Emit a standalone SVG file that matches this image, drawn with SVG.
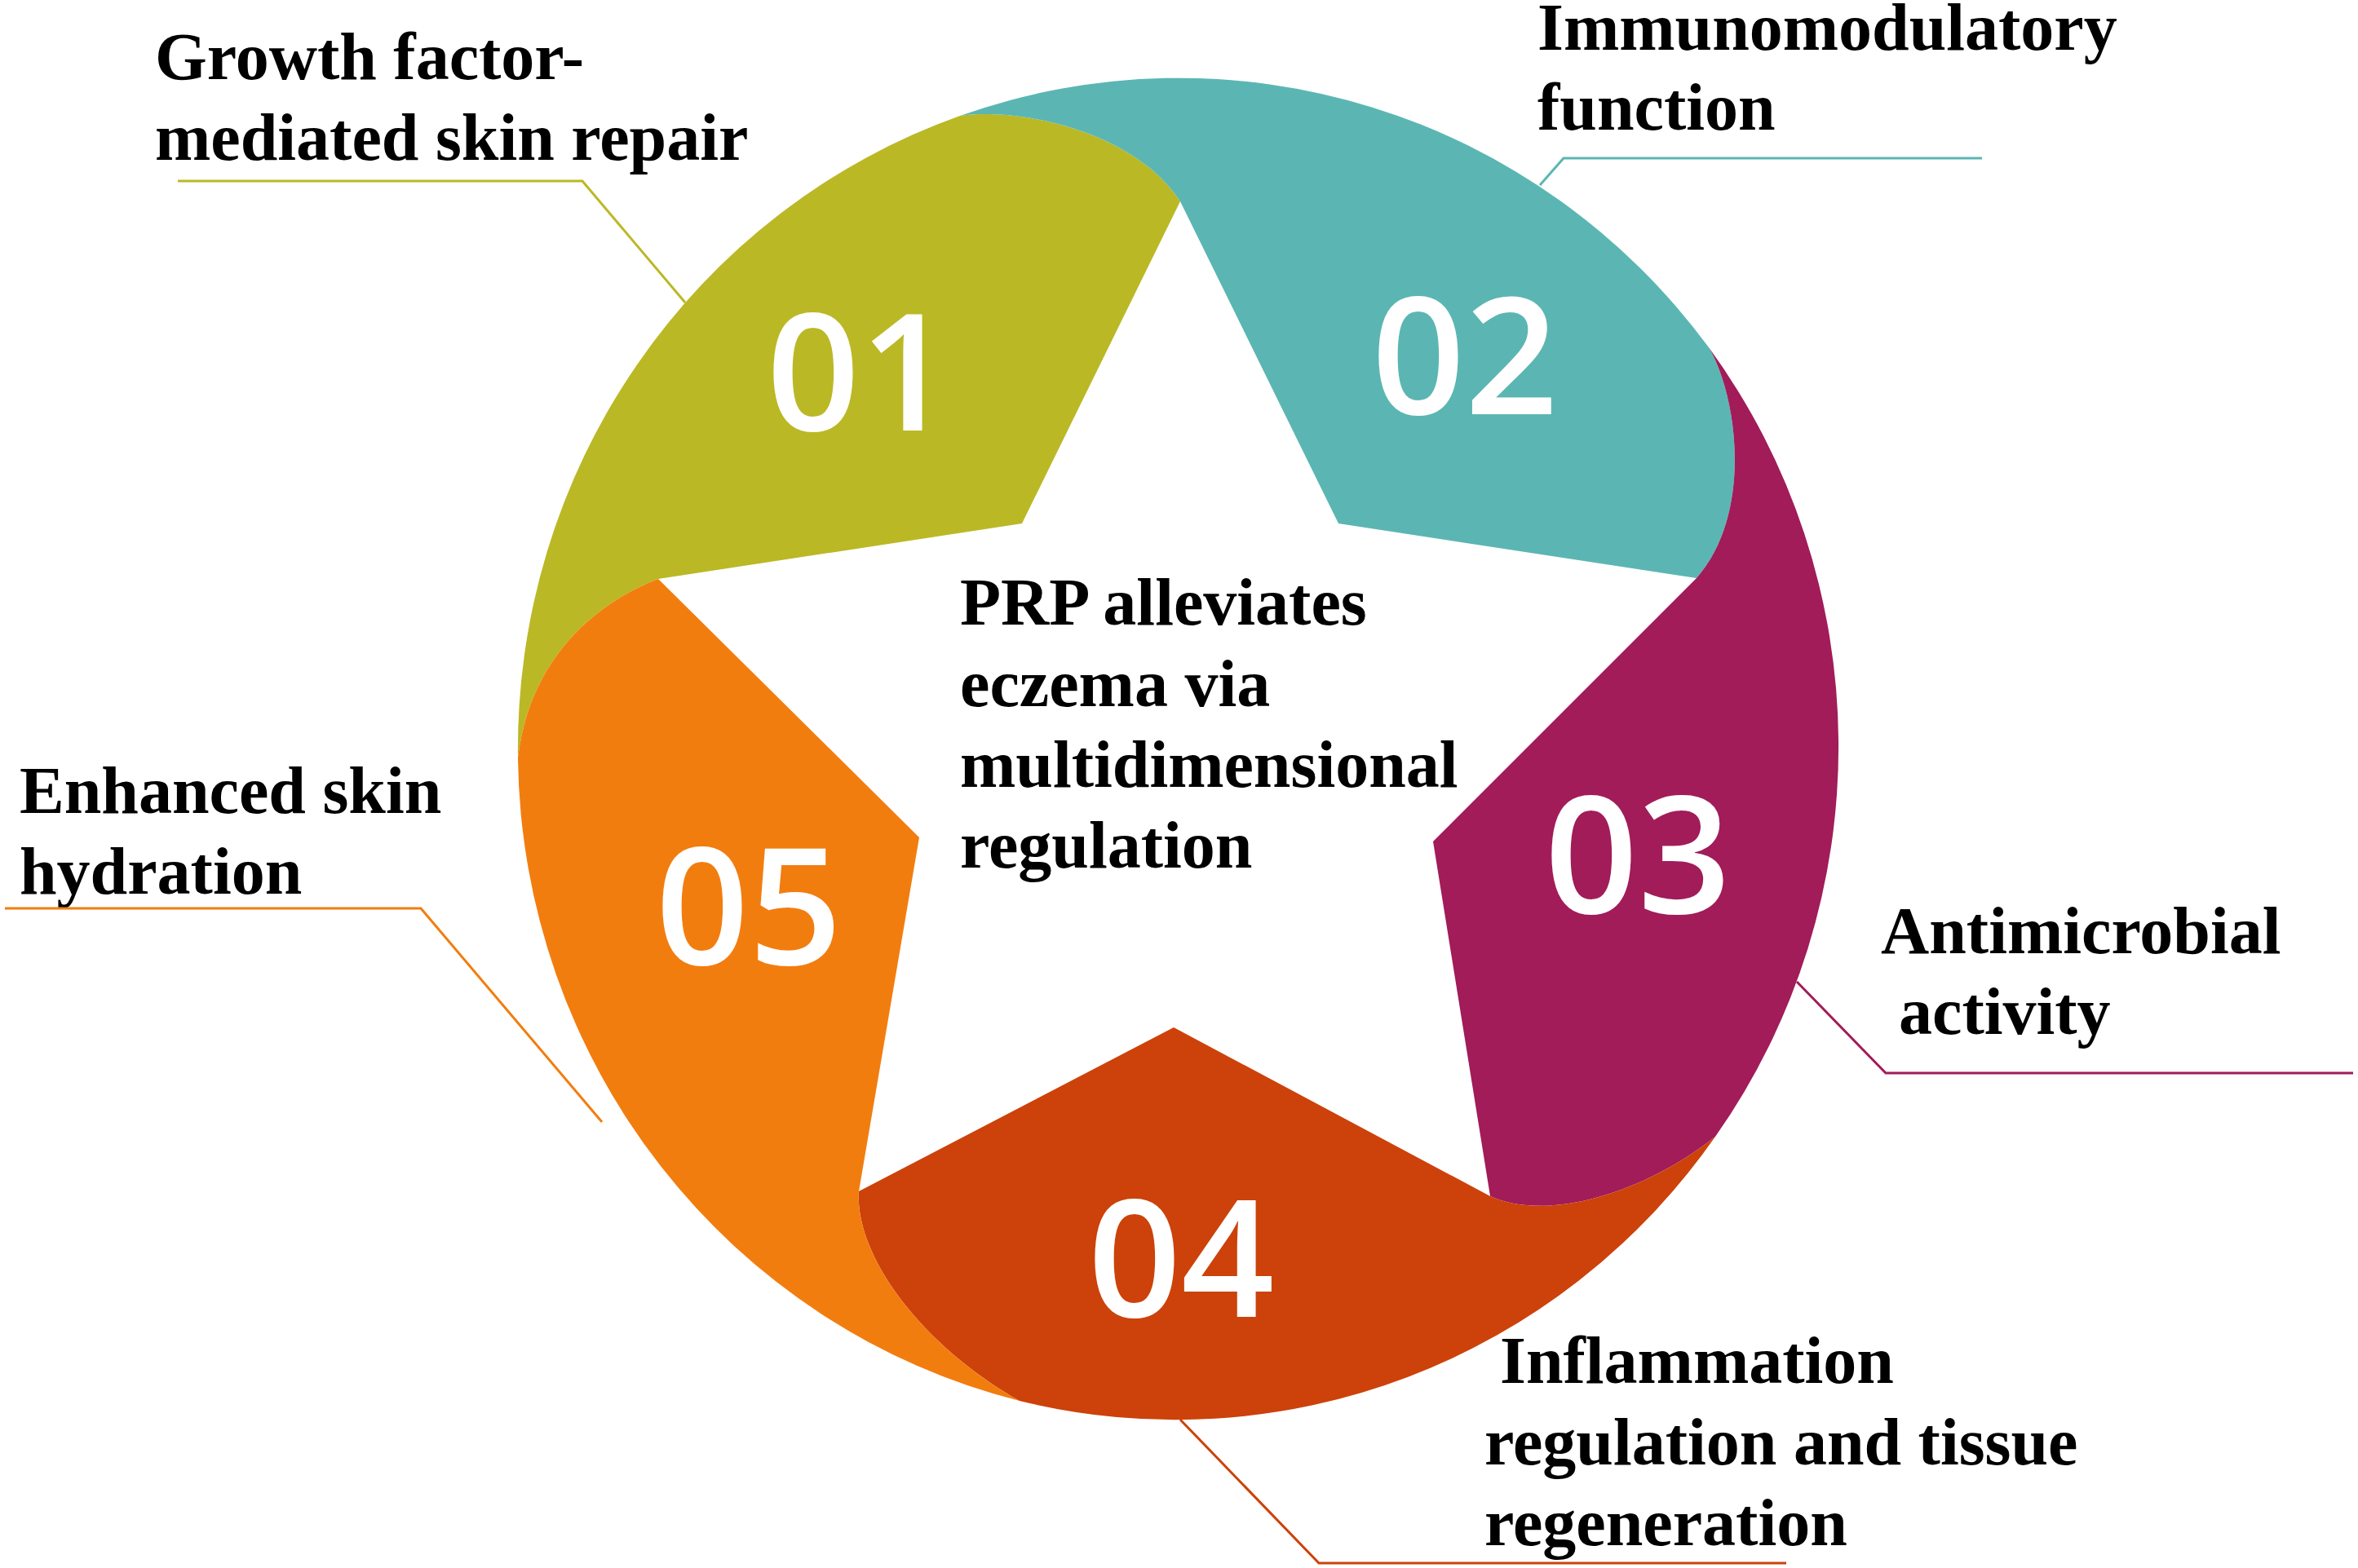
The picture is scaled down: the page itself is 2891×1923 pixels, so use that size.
<svg xmlns="http://www.w3.org/2000/svg" width="2891" height="1923" viewBox="0 0 2891 1923">
<style>
.lbl{font-family:"Liberation Serif","Times New Roman",serif;font-weight:bold;font-size:82px;fill:#000}
.num{font-family:"Open Sans","Noto Sans",sans-serif;font-weight:600;font-size:200px;fill:#fff;text-anchor:middle}
.lead{fill:none;stroke-width:3}
</style>
<rect width="2891" height="1923" fill="#fff"/>
<g id="seg01">
<path fill="#BBB826" d="M1447 247 L1253 642 L807 710 C740 735 650 800 635 930 A811 823 0 0 1 1177 142 C1250 132 1390 160 1447 247 Z"/>
<text class="num" x="1054" y="528">01</text>
<text class="lbl"><tspan x="190" y="97">Growth factor-</tspan><tspan x="190" y="196">mediated skin repair</tspan></text>
</g>
<g id="seg02">
<path fill="#5BB6B3" d="M1447 247 L1641 642 L2080 709 C2150 630 2130 485 2095 426 A811 823 0 0 0 1177 142 C1250 132 1390 160 1447 247 Z"/>
<text class="num" x="1796" y="508">02</text>
<text class="lbl"><tspan x="1885" y="61">Immunomodulatory</tspan><tspan x="1885" y="159">function</tspan></text>
</g>
<g id="seg03">
<path fill="#A11C59" d="M2095 426 C2130 485 2150 630 2080 709 L1757 1032 L1827 1467 C1900 1500 2020 1460 2103 1394 A811 823 0 0 0 2095 426 Z"/>
<text class="num" x="2008" y="1120">03</text>
<text class="lbl"><tspan x="2306" y="1169">Antimicrobial</tspan><tspan x="2328" y="1268">activity</tspan></text>
</g>
<g id="seg04">
<path fill="#CC420A" d="M2103 1394 C2020 1460 1900 1500 1827 1467 L1439 1260 L1053 1461 C1048 1540 1130 1650 1250 1718 A811 823 0 0 0 2103 1394 Z"/>
<text class="num" x="1448" y="1615">04</text>
<text class="lbl"><tspan x="1839" y="1696">Inflammation</tspan><tspan x="1820" y="1796">regulation and tissue</tspan><tspan x="1820" y="1895">regeneration</tspan></text>
</g>
<g id="seg05">
<path fill="#F27D0F" d="M1053 1461 C1048 1540 1130 1650 1250 1718 A811 823 0 0 1 635 930 C650 800 740 735 807 710 L1127 1027 Z"/>
<text class="num" x="918" y="1183">05</text>
<text class="lbl"><tspan x="24" y="997">Enhanced skin</tspan><tspan x="24" y="1096">hydration</tspan></text>
</g>
<g id="center">
<text class="lbl"><tspan x="1177" y="766">PRP alleviates</tspan><tspan x="1177" y="866">eczema via</tspan><tspan x="1177" y="965">multidimensional</tspan><tspan x="1177" y="1064">regulation</tspan></text>
</g>
<g id="connectors">
<polyline class="lead" stroke="#BBB826" points="218,222 714,222 840,371"/>
<polyline class="lead" stroke="#5BB6B3" points="1888,227 1917,194 2430,194"/>
<polyline class="lead" stroke="#A11C59" points="2203,1204 2312,1316 2885,1316"/>
<polyline class="lead" stroke="#CC420A" points="1447,1741 1617,1917 2190,1917"/>
<polyline class="lead" stroke="#F27D0F" points="6,1114 516,1114 738,1376"/>
</g>
</svg>
